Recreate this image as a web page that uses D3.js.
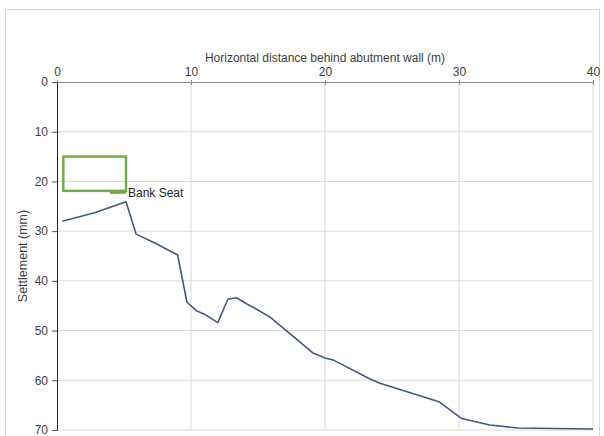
<!DOCTYPE html>
<html>
<head>
<meta charset="utf-8">
<script src="https://cdn.jsdelivr.net/npm/d3@7"></script>
<style>
  html, body { margin: 0; padding: 0; background: #fff; }
  svg { display: block; font-family: "Liberation Sans", Arial, sans-serif; }
</style>
</head>
<body>
<svg id="chart" width="604" height="436"></svg>
<script>
// Settlement profile behind the abutment wall
const distance   = [0.4, 2.8, 5.15, 5.9, 7.3, 9.0, 9.7, 10.4, 11.0, 12.0, 12.75, 13.4, 14.2, 14.9, 15.9, 19.1, 20.0, 20.6, 23.4, 24.1, 28.5, 30.2, 32.3, 34.4, 40.0];
const settlement = [28.0, 26.3, 24.1, 30.6, 32.4, 34.8, 44.3, 46.0, 46.7, 48.4, 43.7, 43.4, 44.7, 45.7, 47.3, 54.5, 55.5, 55.9, 59.8, 60.6, 64.3, 67.7, 69.0, 69.6, 69.8];

// Bank seat outline (distance, settlement) and its ledge
const bankSeatX = [0.47, 5.15];
const bankSeatY = [15.0, 21.9];
const ledgeX = [3.95, 5.15];
const ledgeY = 22.3;
const bankSeatLabel = "Bank Seat";

const xTicks = [0, 10, 20, 30, 40];
const yTicks = [0, 10, 20, 30, 40, 50, 60, 70];

const xTitle = "Horizontal distance behind abutment wall (m)";
const yTitle = "Settlement (mm)";

const svg = d3.select("#chart");
const plot = { left: 57, right: 593, top: 82, bottom: 430 };

const x = d3.scaleLinear().domain([0, 40]).range([plot.left, plot.right]);
const y = d3.scaleLinear().domain([0, 70]).range([plot.top, plot.bottom]);

// chart frame
svg.append("rect")
  .attr("x", 5.5).attr("y", 9.5).attr("width", 594).attr("height", 440)
  .attr("fill", "#fff").attr("stroke", "#d9d9d9");

// gridlines
svg.append("g").selectAll("line").data(xTicks.filter(d => d > 0)).join("line")
  .attr("x1", d => x(d)).attr("x2", d => x(d))
  .attr("y1", plot.top).attr("y2", plot.bottom)
  .attr("stroke", "#d9d9d9").attr("stroke-width", 1);
svg.append("g").selectAll("line").data(yTicks.filter(d => d > 0)).join("line")
  .attr("x1", plot.left).attr("x2", plot.right)
  .attr("y1", d => y(d)).attr("y2", d => y(d))
  .attr("stroke", "#d9d9d9").attr("stroke-width", 1);

// top x axis
const xAxis = d3.axisTop(x).tickValues(xTicks).tickSize(0).tickPadding(6);
const gx = svg.append("g").attr("transform", `translate(0,${plot.top})`).call(xAxis);
gx.select(".domain").attr("stroke", "#8c8c8c");
gx.selectAll(".tick text").attr("fill", "#404040").attr("font-size", 12)
  .attr("font-family", "Liberation Sans, Arial, sans-serif");
gx.selectAll(".tick").append("line").attr("y1", -2).attr("y2", 3).attr("stroke", "#8c8c8c");

// left y axis
const yAxis = d3.axisLeft(y).tickValues(yTicks).tickSize(5).tickSizeOuter(0).tickPadding(4);
const gy = svg.append("g").attr("transform", `translate(${plot.left},0)`).call(yAxis);
gy.select(".domain").attr("stroke", "#222");
gy.selectAll(".tick line").attr("stroke", "#555");
gy.selectAll(".tick text").attr("fill", "#404040").attr("font-size", 12)
  .attr("font-family", "Liberation Sans, Arial, sans-serif");

// axis titles
svg.append("text")
  .attr("x", (plot.left + plot.right) / 2).attr("y", 62)
  .attr("text-anchor", "middle").attr("font-size", 12).attr("fill", "#404040")
  .text(xTitle);
svg.append("text")
  .attr("transform", `translate(27,${(plot.top + plot.bottom) / 2}) rotate(-90)`)
  .attr("text-anchor", "middle").attr("font-size", 12.5).attr("fill", "#404040")
  .text(yTitle);

// bank seat
svg.append("rect")
  .attr("x", x(bankSeatX[0])).attr("y", y(bankSeatY[0]))
  .attr("width", x(bankSeatX[1]) - x(bankSeatX[0]))
  .attr("height", y(bankSeatY[1]) - y(bankSeatY[0]))
  .attr("fill", "none").attr("stroke", "#70ad47").attr("stroke-width", 2.5);
svg.append("line")
  .attr("x1", x(ledgeX[0])).attr("x2", x(ledgeX[1]))
  .attr("y1", y(ledgeY)).attr("y2", y(ledgeY))
  .attr("stroke", "#70ad47").attr("stroke-width", 2);
svg.append("text")
  .attr("x", x(ledgeX[1]) + 2).attr("y", y(ledgeY) + 4)
  .attr("font-size", 12).attr("fill", "#222")
  .text(bankSeatLabel);

// settlement line
const pts = distance.map((d, i) => [d, settlement[i]]);
svg.append("path")
  .datum(pts)
  .attr("fill", "none")
  .attr("stroke", "#44597e")
  .attr("stroke-width", 1.6)
  .attr("stroke-linejoin", "round")
  .attr("d", d3.line().x(d => x(d[0])).y(d => y(d[1])));
</script>
</body>
</html>
